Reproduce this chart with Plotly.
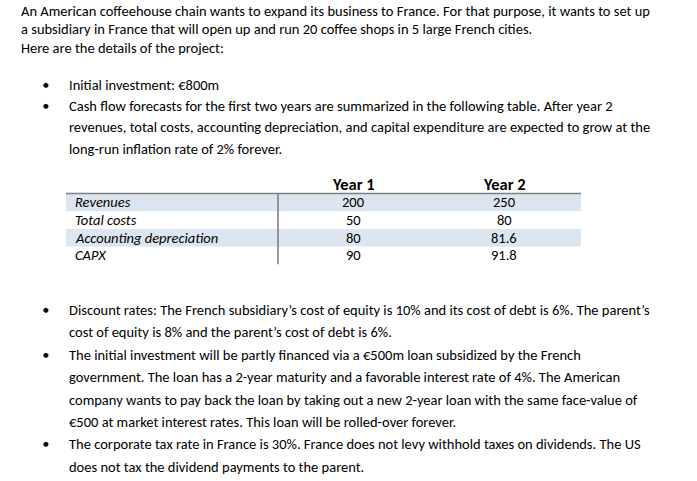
import plotly.graph_objects as go

# ---------------- data ----------------
intro_lines = [
    "An American coffeehouse chain wants to expand its business to France. For that purpose, it wants to set up",
    "a subsidiary in France that will open up and run 20 coffee shops in 5 large French cities.",
    "Here are the details of the project:",
]
bullets_top = [
    ["Initial investment: €800m"],
    ["Cash flow forecasts for the first two years are summarized in the following table. After year 2",
     "revenues, total costs, accounting depreciation, and capital expenditure are expected to grow at the",
     "long-run inflation rate of 2% forever."],
]
col_headers = ["Year 1", "Year 2"]
row_labels = ["Revenues", "Total costs", "Accounting depreciation", "CAPX"]
year1 = [200, 50, 80, 90]
year2 = [250, 80, 81.6, 91.8]
bullets_bottom = [
    ["Discount rates: The French subsidiary’s cost of equity is 10% and its cost of debt is 6%. The parent’s",
     "cost of equity is 8% and the parent’s cost of debt is 6%."],
    ["The initial investment will be partly financed via a €500m loan subsidized by the French",
     "government. The loan has a 2-year maturity and a favorable interest rate of 4%. The American",
     "company wants to pay back the loan by taking out a new 2-year loan with the same face-value of",
     "€500 at market interest rates. This loan will be rolled-over forever."],
    ["The corporate tax rate in France is 30%. France does not levy withhold taxes on dividends. The US",
     "does not tax the dividend payments to the parent."],
]

# ---------------- style ----------------
W, H = 697, 481
FONT = "Carlito, Calibri, Lato, sans-serif"
FS = 14.5
TXT = "#000000"
BAND = "#DCE6F1"
RULE = "#7F7F7F"

fig = go.Figure()
ann = []
shapes = []

def line(x, y, text, size=FS, anchor="left", bold=False, italic=False):
    t = text
    if bold:
        t = "<b>" + t + "</b>"
    if italic:
        t = "<i>" + t + "</i>"
    ann.append(dict(x=x, y=y, xref="x", yref="y", text=t, showarrow=False,
                    xanchor=anchor, yanchor="middle",
                    font=dict(family=FONT, size=size, color=TXT)))

# intro
y0, intro_step = 10.5, 18.5
for i, t in enumerate(intro_lines):
    line(19, y0 + i * intro_step, t)

BULLET_X, TEXT_X = 45.5, 67

def bullets(blocks, ystart, step):
    y = ystart
    for block in blocks:
        ann.append(dict(x=BULLET_X, y=y, xref="x", yref="y", text="●", showarrow=False,
                        xanchor="center", yanchor="middle",
                        font=dict(family="DejaVu Sans", size=6.5, color=TXT)))
        for t in block:
            line(TEXT_X, y, t)
            y += step
    return y

bullets(bullets_top, 85, 21.2)
bullets(bullets_bottom, 310, 22.4)

# table
tx0, tx1, vx = 66, 581, 278
hdr_y = 183.5
rule_y = 193.5
row_h = 17.7
col_x = [353, 504]
for j, h in enumerate(col_headers):
    line(col_x[j], hdr_y, h, size=16.5, anchor="center", bold=True)
for i, lab in enumerate(row_labels):
    top = rule_y + i * row_h
    if i % 2 == 0:
        shapes.append(dict(type="rect", xref="x", yref="y", x0=tx0, x1=tx1,
                           y0=top, y1=top + row_h, fillcolor=BAND, line=dict(width=0),
                           layer="below"))
    yc = top + row_h / 2
    line(73, yc, lab, italic=True)
    line(col_x[0], yc, f"{year1[i]:g}", anchor="center")
    line(col_x[1], yc, f"{year2[i]:g}", anchor="center")

shapes.append(dict(type="line", xref="x", yref="y", x0=tx0, x1=tx1, y0=rule_y, y1=rule_y,
                   line=dict(color=RULE, width=1.6)))
shapes.append(dict(type="line", xref="x", yref="y", x0=vx, x1=vx, y0=rule_y,
                   y1=rule_y + len(row_labels) * row_h, line=dict(color=RULE, width=1.6)))

fig.update_layout(
    width=W, height=H, margin=dict(l=0, r=0, t=0, b=0),
    paper_bgcolor="white", plot_bgcolor="white",
    xaxis=dict(range=[0, W], visible=False, fixedrange=True),
    yaxis=dict(range=[H, 0], visible=False, fixedrange=True),
    annotations=ann, shapes=shapes, showlegend=False,
)
fig.write_html(
    "out.html",
    config={"displayModeBar": False, "staticPlot": True},
    post_script="document.body.style.margin='0';document.body.style.overflow='hidden';",
)
